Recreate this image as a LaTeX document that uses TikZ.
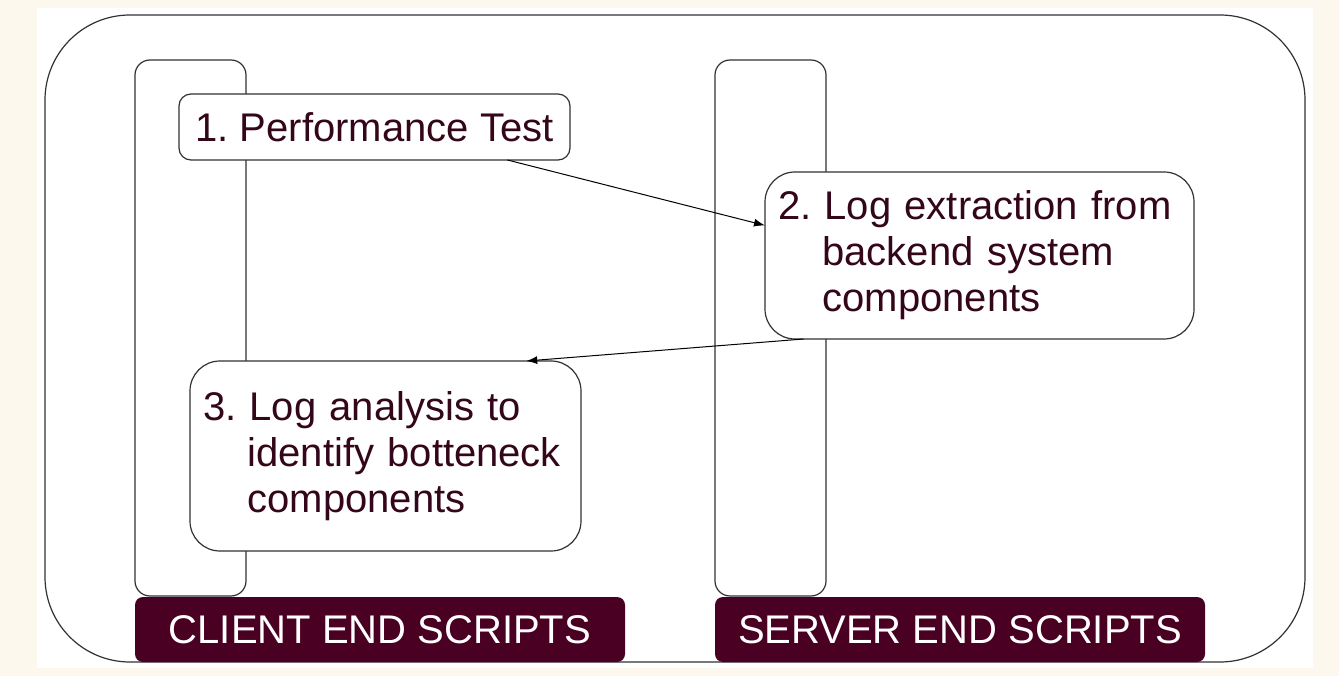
\documentclass[tikz,border=0pt]{standalone}
\usepackage{fontspec}
\setmainfont{Liberation Sans}
\usetikzlibrary{calc,positioning,arrows.meta}
\definecolor{bgcream}{RGB}{253,248,237}
\definecolor{txtcol}{RGB}{52,6,26}
\definecolor{labcol}{RGB}{74,0,34}
\definecolor{linecol}{RGB}{50,50,50}
\newcommand{\numhang}{\hspace*{1.112em}}
\frenchspacing

\begin{document}
\begin{tikzpicture}[x=1pt,y=-1pt,
    every node/.style={inner sep=0pt, outer sep=0pt},
    frame/.style={draw=linecol, line width=1.2pt, rounded corners=85pt, minimum width=1260pt, minimum height=647pt, anchor=north west},
    lane/.style={draw=linecol, line width=1.2pt, fill=white, rounded corners=15pt, minimum width=111pt, minimum height=536pt, anchor=north west},
    stepbox/.style={draw=linecol, line width=1.2pt, fill=white, anchor=north west, inner xsep=13pt, align=left, text=txtcol, font=\fontsize{40}{46}\selectfont},
    lanelabel/.style={fill=labcol, text=white, rounded corners=8pt, minimum width=490pt, minimum height=65pt, anchor=north west, font=\fontsize{40}{46}\selectfont},
    flow/.style={draw=black, line width=1pt, -{Latex[length=11pt,width=8pt]}}]
    % page and white sheet
    \fill[bgcream] (0,0) rectangle (1339,676);
    \fill[white] (37,8) rectangle (1313,668);
    \useasboundingbox (0,0) rectangle (1339,676);

    \node[frame] (outer) at (45,15) {};
    \node[lane] (clientlane) at (135,60) {};
    \node[lane] (serverlane) at (715,60) {};

    \node[stepbox, rounded corners=12pt, minimum width=391pt, minimum height=66pt] (perf) at (179,94) {1. Performance Test};
    \node[stepbox, rounded corners=30pt, text width=403pt, minimum height=167pt] (extr) at (765,172)
      {2. Log extraction from\\\numhang backend system\\\numhang components};
    \node[stepbox, rounded corners=30pt, text width=365pt, minimum height=190pt] (anal) at (190,361)
      {3. Log analysis to\\\numhang identify botteneck\\\numhang components};

    \draw[flow] ($(perf.south west)!0.84!(perf.south east)$) -- ($(extr.north west)!0.32!(extr.south west)$);
    \draw[flow] ($(extr.south west)!0.09!(extr.south east)$) -- ($(anal.north west)!0.86!(anal.north east)$);

    \node[lanelabel] (clientlab) at (135,597) {CLIENT END SCRIPTS};
    \node[lanelabel] (serverlab) at (715,597) {SERVER END SCRIPTS};
\end{tikzpicture}
\end{document}
